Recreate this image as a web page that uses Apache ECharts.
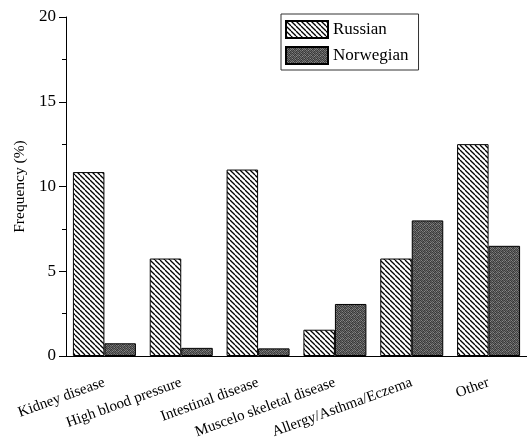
<!DOCTYPE html>
<html>
<head>
<meta charset="utf-8">
<script src="https://cdn.jsdelivr.net/npm/echarts@6/dist/echarts.min.js"></script>
<style>html,body{margin:0;padding:0;background:#fff;}#c{width:527px;height:441px;}</style>
</head>
<body>
<div id="c"></div>
<script>
var categories = ['Kidney disease', 'High blood pressure', 'Intestinal disease', 'Muscelo skeletal disease', 'Allergy/Asthma/Eczema', 'Other'];
var russian = [10.85, 5.75, 11.0, 1.55, 5.75, 12.5];
var norwegian = [0.75, 0.48, 0.45, 3.07, 8.0, 6.5];
var yTicks = [0, 5, 10, 15, 20];

function hatch() {
  var s = 5, c = document.createElement('canvas');
  c.width = s; c.height = s;
  var g = c.getContext('2d');
  g.fillStyle = '#fff'; g.fillRect(0, 0, s, s);
  g.strokeStyle = '#000'; g.lineWidth = 1.3;
  for (var k = -1; k <= 1; k++) {
    g.beginPath(); g.moveTo(k * s, 0); g.lineTo(k * s + s, s); g.stroke();
  }
  return c;
}
function stipple() {
  var vals = [
    0x38,0x6a,0x44,0x80,0x3c,0x5a,
    0x74,0x40,0x62,0x34,0x70,0x48,
    0x4c,0x86,0x36,0x5c,0x42,0x7c,
    0x66,0x3a,0x78,0x46,0x8a,0x3e,
    0x40,0x5e,0x4a,0x6e,0x38,0x64,
    0x82,0x36,0x6c,0x3c,0x58,0x4e
  ];
  var n = 6, c = document.createElement('canvas');
  c.width = n; c.height = n;
  var g = c.getContext('2d');
  for (var i = 0; i < n * n; i++) {
    var v = vals[i];
    g.fillStyle = 'rgb(' + v + ',' + v + ',' + v + ')';
    g.fillRect(i % n, Math.floor(i / n), 1, 1);
  }
  return c;
}

var font = 'Liberation Serif';
var chart = echarts.init(document.getElementById('c'), null, {renderer: 'canvas'});
chart.setOption({
  animation: false,
  textStyle: {fontFamily: font, color: '#000'},
  legend: {
    orient: 'vertical', left: 281, top: 14,
    itemWidth: 42, itemHeight: 17, itemGap: 7,
    borderColor: '#333', borderWidth: 1, padding: [6, 10, 5, 4],
    textStyle: {fontFamily: font, fontSize: 17, color: '#000'},
    icon: 'rect'
  },
  grid: {left: 66, right: -2, top: 17, bottom: 85, containLabel: false},
  xAxis: [{
    type: 'category', data: categories, position: 'bottom',
    axisLine: {lineStyle: {color: '#000', width: 1}},
    axisTick: {alignWithLabel: true, length: 6, lineStyle: {color: '#000'}},
    axisLabel: {rotate: 20, fontFamily: font, fontSize: 15, color: '#000', margin: 26, interval: 0}
  }, {
    type: 'category', data: categories, position: 'bottom',
    axisLine: {show: false},
    axisTick: {length: 3, lineStyle: {color: '#000'}},
    axisLabel: {show: false}
  }],
  yAxis: {
    type: 'value', min: yTicks[0], max: yTicks[yTicks.length - 1], interval: 5,
    name: 'Frequency (%)', nameLocation: 'middle', nameGap: 38,
    nameTextStyle: {fontFamily: font, fontSize: 15.5, color: '#000'},
    axisLine: {show: true, lineStyle: {color: '#000'}},
    axisTick: {show: true, length: 7, lineStyle: {color: '#000'}},
    minorTick: {show: true, splitNumber: 2, length: 4, lineStyle: {color: '#000'}},
    splitLine: {show: false},
    axisLabel: {fontFamily: font, fontSize: 17, color: '#000', margin: 10}
  },
  series: [{
    name: 'Russian', type: 'bar', data: russian, xAxisIndex: 0,
    barGap: '0%', barCategoryGap: '18%',
    itemStyle: {color: {image: hatch(), repeat: 'repeat'}, borderColor: '#000', borderWidth: 1}
  }, {
    name: 'Norwegian', type: 'bar', data: norwegian, xAxisIndex: 0,
    barGap: '0%', barCategoryGap: '18%',
    itemStyle: {color: {image: stipple(), repeat: 'repeat'}, borderColor: '#000', borderWidth: 1}
  }]
});
</script>
</body>
</html>
